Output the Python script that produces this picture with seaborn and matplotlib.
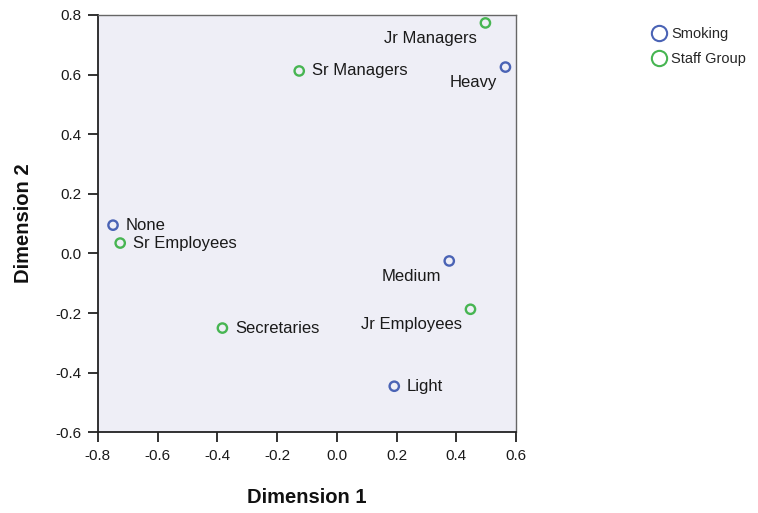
import numpy as np
import pandas as pd
import matplotlib
matplotlib.use("Agg")
import matplotlib.pyplot as plt
from matplotlib.lines import Line2D
import seaborn as sb

# tacke (kategorije) i koordinate
labels = ["Heavy", "Medium", "Light", "None",
          "Jr Managers", "Sr Managers", "Sr Employees", "Jr Employees", "Secretaries"]
dim1 = [0.564, 0.376, 0.192, -0.749, 0.497, -0.126, -0.725, 0.447, -0.383]
dim2 = [0.625, -0.025, -0.445, 0.095, 0.773, 0.612, 0.035, -0.187, -0.250]
group = ["Smoking"] * 4 + ["Staff Group"] * 5

groups = ["Smoking", "Staff Group"]
boje = {"Smoking": "#4a63b5", "Staff Group": "#47b552"}
# labele koje idu dole levo od tacke
levo = ["Heavy", "Medium", "Jr Managers", "Jr Employees"]
xt = [-0.8, -0.6, -0.4, -0.2, 0.0, 0.2, 0.4, 0.6]
yt = [-0.6, -0.4, -0.2, 0.0, 0.2, 0.4, 0.6, 0.8]

df = pd.DataFrame({"label": labels, "d1": dim1, "d2": dim2, "group": group})

sb.set_style("white")
plt.rcParams["font.family"] = ["Liberation Sans", "DejaVu Sans"]

fig = plt.figure(figsize=(7.58, 5.13), dpi=100)
ax = fig.add_axes([0.129, 0.157, 0.552, 0.814])
ax.set_facecolor("#eeeef6")

sb.scatterplot(data=df, x="d1", y="d2", hue="group", hue_order=groups,
               palette=boje, s=45, linewidth=1.7, legend=False, ax=ax, zorder=3)
pts = ax.collections[0]
pts.set_edgecolors(pts.get_facecolors())
pts.set_facecolors("none")

for i, row in df.iterrows():
    if row["label"] in levo:
        ax.annotate(row["label"], (row["d1"], row["d2"]), xytext=(-6, -11),
                    textcoords="offset points", ha="right", va="center",
                    fontsize=12, color="#1a1a1a")
    else:
        ax.annotate(row["label"], (row["d1"], row["d2"]), xytext=(9, 0),
                    textcoords="offset points", ha="left", va="center",
                    fontsize=12, color="#1a1a1a")

ax.set_xlim(-0.8, 0.6)
ax.set_ylim(-0.6, 0.8)
ax.set_xticks(xt)
ax.set_yticks(yt)
ax.set_xticklabels([f"{v:.1f}" for v in xt])
ax.set_yticklabels([f"{v:.1f}" for v in yt])
ax.tick_params(axis="both", direction="out", length=7, width=1.3, color="#222222",
               labelsize=11, labelcolor="#1a1a1a", pad=5, bottom=True, left=True)
for s in ["left", "bottom"]:
    ax.spines[s].set_color("#222222")
    ax.spines[s].set_linewidth(1.3)
for s in ["top", "right"]:
    ax.spines[s].set_color("#666666")
    ax.spines[s].set_linewidth(1.0)

ax.set_xlabel("Dimension 1", fontsize=14.5, fontweight="bold", labelpad=18,
              color="#111111")
ax.set_ylabel("Dimension 2", fontsize=14.5, fontweight="bold", labelpad=16,
              color="#111111")

handles = [Line2D([], [], marker="o", linestyle="none", markersize=11,
                  markerfacecolor="none", markeredgecolor=boje[g], markeredgewidth=1.5)
           for g in groups]
fig.legend(handles, groups, loc="upper left", bbox_to_anchor=(0.852, 0.958),
           frameon=False, fontsize=10.5, handlelength=1.0, handletextpad=0.35,
           labelspacing=0.75, borderaxespad=0)

fig.savefig("out.png", dpi=100)
